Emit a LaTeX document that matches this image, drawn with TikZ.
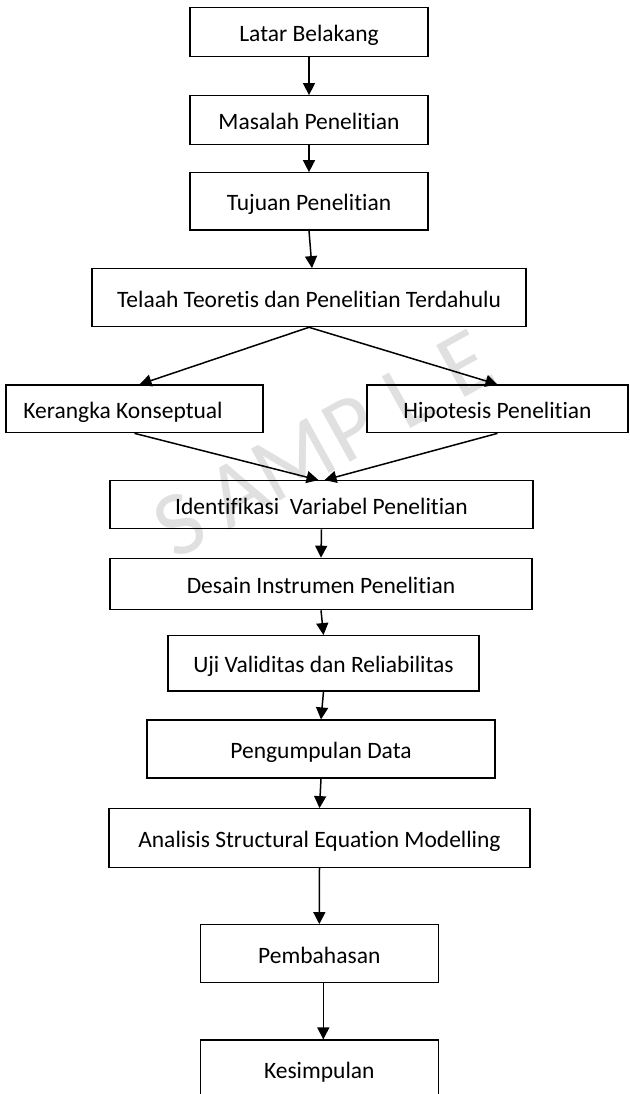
\documentclass[tikz,border=0pt]{standalone}
\usepackage{fontspec}
\setmainfont{Carlito}[Ligatures=NoCommon]
\usetikzlibrary{arrows.meta}

\tikzset{
  stage/.style={draw, line width=1.2pt, inner sep=0pt,
    text height=19pt, text depth=0pt,
    font=\fontsize{23.5}{28}\selectfont},
  flow/.style={line width=1.5pt, -{Triangle[length=12pt,width=12pt]}},
  wmark/.style={text=black!12, inner sep=0pt,
    font=\fontsize{92}{92}\selectfont, rotate=29},
}

\begin{document}
\begin{tikzpicture}[x=1pt, y=-1pt]

  \useasboundingbox (0,0) rectangle (629,1094);

  % Watermark
  \foreach \ch [count=\i] in {S,A,M,P,L,E}
    \node[wmark] (wm\i) at ({180+57*(\i-1)}, {524-32*(\i-1)}) {\ch}; %

  % Layout the stages
  \node[stage, minimum width=238pt, minimum height=49pt]   (latar)     at (309,32.2)    {Latar Belakang}; %
  \node[stage, minimum width=238pt, minimum height=48.6pt] (masalah)   at (309,120)     {Masalah Penelitian}; %
  \node[stage, minimum width=238pt, minimum height=57.3pt] (tujuan)    at (309,201.4)   {Tujuan Penelitian}; %
  \node[stage, minimum width=434pt, minimum height=58pt]   (telaah)    at (309,297.7)   {Telaah Teoretis dan Penelitian Terdahulu}; %
  \node[stage, minimum width=257pt, minimum height=47.7pt] (kerangka)  at (134.5,408.9) {Kerangka Konseptual\hspace*{23pt}}; %
  \node[stage, minimum width=261pt, minimum height=47.7pt] (hipotesis) at (497.5,408.9) {Hipotesis Penelitian}; %
  \node[stage, minimum width=423pt, minimum height=48pt]   (ident)     at (321.5,504.7) {Identifikasi\ \ Variabel Penelitian}; %
  \node[stage, minimum width=422pt, minimum height=51.4pt] (desain)    at (321,584)     {Desain Instrumen Penelitian}; %
  \node[stage, minimum width=311pt, minimum height=55.3pt] (uji)       at (323.5,663.3) {Uji Validitas dan Reliabilitas}; %
  \node[stage, minimum width=348pt, minimum height=58pt]   (kumpul)    at (321,749)     {Pengumpulan Data}; %
  \node[stage, minimum width=421pt, minimum height=58.6pt] (analisis)  at (319.5,838)   {Analisis Structural Equation Modelling}; %
  \node[stage, minimum width=238pt, minimum height=58pt]   (bahas)     at (319.3,953.7) {Pembahasan}; %
  \node[stage, minimum width=238pt, minimum height=58pt]   (simpul)    at (319.3,1069)  {Kesimpulan}; %

  % Stage connections
  \draw[flow] (latar.south)     -- (masalah.north); %
  \draw[flow] (masalah.south)   -- (tujuan.north); %
  \draw[flow] (tujuan.south)    -- ([xshift=3pt]telaah.north); %
  \draw[flow] (telaah.south)    -- ([xshift=5pt]kerangka.north); %
  \draw[flow] (telaah.south)    -- (hipotesis.north); %
  \draw[flow] (kerangka.south)  -- ([xshift=-3pt]ident.north); %
  \draw[flow] (hipotesis.south) -- ([xshift=3pt]ident.north); %
  \draw[flow] (ident.south)     -- (desain.north); %
  \draw[flow] (desain.south)    -- (uji.north); %
  \draw[flow] (uji.south)       -- (kumpul.north); %
  \draw[flow] (kumpul.south)    -- (analisis.north); %
  \draw[flow] (analisis.south)  -- (bahas.north); %
  \draw[flow] ([xshift=4pt]bahas.south) -- ([xshift=4pt]simpul.north); %

\end{tikzpicture}
\end{document}
